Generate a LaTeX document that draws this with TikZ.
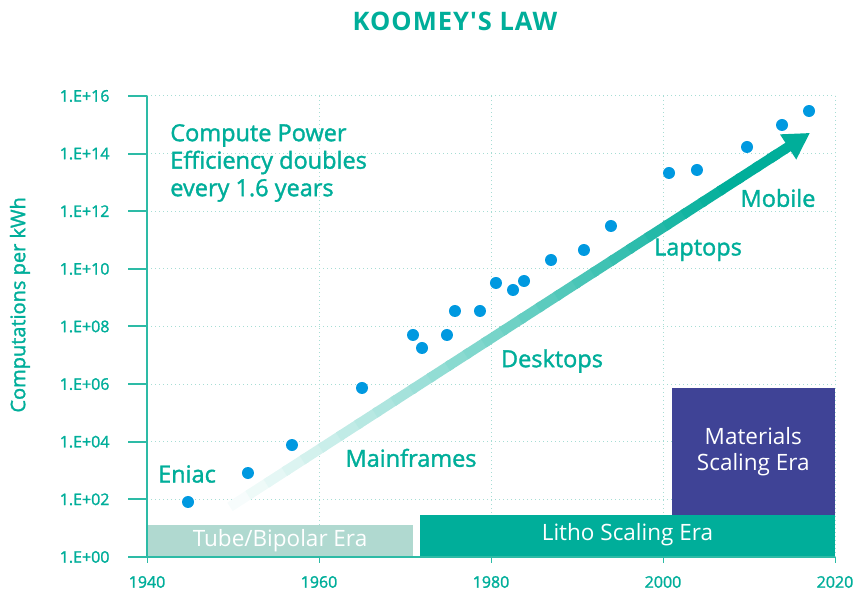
\documentclass[tikz,border=0pt]{standalone}
\usepackage{fontspec}
\setmainfont{Open Sans}
\newfontfamily\semibold{Open Sans}[FakeBold=1.5]
\newfontfamily\titlefont{Open Sans}[LetterSpace=4]
\usetikzlibrary{arrows.meta,calc}

\definecolor{koomeyteal}{HTML}{00AE9A}
\definecolor{axisteal}{HTML}{2DBBA6}
\definecolor{gridteal}{HTML}{A6DDD4}
\definecolor{dotblue}{HTML}{0099E0}
\definecolor{tubegreen}{HTML}{B0D9D0}
\definecolor{materialsblue}{HTML}{3F4396}

\begin{document}
\begin{tikzpicture}[x=8.6pt,y=28.8125pt,
    tick label/.style={text=koomeyteal,font=\semibold\fontsize{16}{18}\selectfont},
    era label/.style={text=white,font=\fontsize{22.5}{26}\selectfont},
    trend label/.style={text=koomeyteal,font=\semibold\fontsize{23.5}{27.5}\selectfont},
    grid line/.style={gridteal,line width=1pt,dash pattern=on 1pt off 3pt},
    axis line/.style={axisteal,line width=2pt}]

    \useasboundingbox (-147pt,-39pt) rectangle (709pt,557pt);

% title
    \node[text=koomeyteal,font=\titlefont\bfseries\fontsize{25.5}{30}\selectfont] (title) at (35.81,18.59) {KOOMEY'S LAW};

% grid
    \foreach \d in {2,4,...,16}
        \draw[grid line] (0,\d) -- (80,\d);
    \foreach \xx in {20,40,60,80}
        \draw[grid line] (\xx,0) -- (\xx,16);

% eras
    \fill[tubegreen] (0,0) rectangle (30.93,1.11);
    \fill[koomeyteal] (31.74,0) rectangle (80,1.458);
    \fill[materialsblue] (61.05,1.458) rectangle (80,5.866);
    \node[era label] (tube) at (15.47,0.555) {Tube/Bipolar Era};
    \node[era label] (litho) at (55.87,0.76) {Litho Scaling Era};
    \node[era label,align=center] (materials) at (70.5,3.66) {Materials\\Scaling Era};

% axes
    \draw[axis line] (0,16) -- (0,0) -- (80,0);
    \foreach \d/\lab in {0/00,2/02,4/04,6/06,8/08,10/10,12/12,14/14,16/16} {
        \draw[axis line] ([xshift=-19pt]0,\d) -- (0,\d);
        \node[tick label,anchor=east] (ylab\lab) at ([xshift=-34pt]0,\d) {1.E+\lab};
    }
    \foreach \xx/\yr in {0/1940,20/1960,40/1980,60/2000,80/2020} {
        \draw[axisteal,line width=1pt] (\xx,0) -- ([yshift=-6pt]\xx,0);
        \node[tick label] (xlab\yr) at ([yshift=-25pt]\xx,0) {\yr};
    }
    \node[trend label,font=\semibold\fontsize{20}{24}\selectfont,rotate=90] (ytitle) at (-14.77,8.75) {Computations per kWh};

% trend arrow
    \coordinate (arrow tail) at (9.65,1.74);
    \coordinate (arrow head) at (77.09,14.72);
    \foreach \i in {0,...,29} {
        \pgfmathsetmacro\mixpct{min(100,3+\i*3.6)}
        \pgfmathsetmacro\ta{\i/32}
        \pgfmathsetmacro\tb{(\i+1.2)/32}
        \draw[line width=10pt,koomeyteal!\mixpct!white] ($(arrow tail)!\ta!(arrow head)$) -- ($(arrow tail)!\tb!(arrow head)$);
    }
    \draw[line width=10pt,koomeyteal,-{Triangle[length=26pt,width=28pt]}] ($(arrow tail)!0.93!(arrow head)$) -- (arrow head);

% data points
    \foreach \xx/\d in {4.77/1.909,11.74/2.915,16.86/3.887,25.0/5.866,30.93/7.705,31.98/7.254,
        34.88/7.705,35.81/8.538,38.72/8.538,40.58/9.510,42.56/9.267,43.84/9.579,46.98/10.308,
        50.81/10.655,53.95/11.488,60.70/13.328,63.95/13.432,69.77/14.230,73.84/14.994,76.98/15.479}
        \fill[dotblue] (\xx,\d) circle (6pt);

% labels
    \node[trend label] (eniac) at (4.65,2.88) {Eniac};
    \node[trend label] (mainframes) at (30.70,3.44) {Mainframes};
    \node[trend label] (desktops) at (47.09,6.80) {Desktops};
    \node[trend label] (laptops) at (64.07,10.66) {Laptops};
    \node[trend label] (mobile) at (73.37,12.46) {Mobile};
    \node[trend label,anchor=west,align=left] (doubling) at (2.3,13.675) {Compute Power\\Efficiency doubles\\every 1.6 years};

\end{tikzpicture}
\end{document}
